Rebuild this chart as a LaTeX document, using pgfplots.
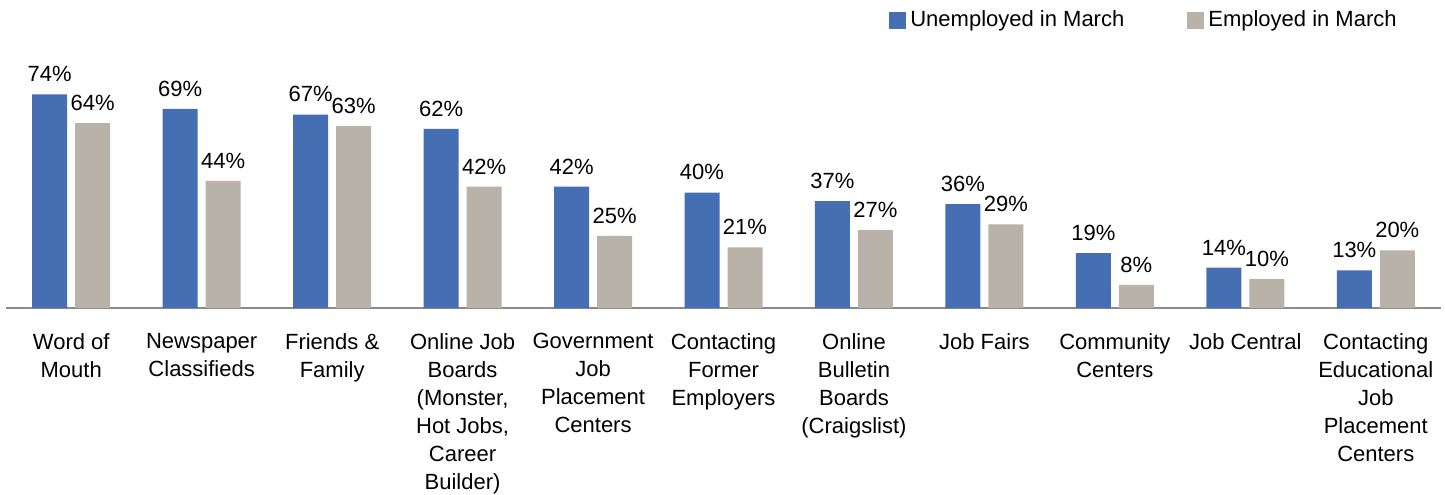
\documentclass[border=0pt]{standalone}
\usepackage{pgfplots}
\pgfplotsset{compat=1.18}
\usepackage{fontspec}
\setmainfont{Liberation Sans}
\definecolor{cblue}{HTML}{466EB3}
\definecolor{cgrey}{HTML}{B9B2A8}
\definecolor{caxis}{HTML}{8A8A8A}
\begin{document}
\begin{tikzpicture}
\path[use as bounding box] (0,0) rectangle (722.5pt,247pt);
\begin{axis}[
  at={(3pt,93pt)}, anchor=south west,
  scale only axis, width=717.5pt, height=115.5pt,
  xmin=-0.5, xmax=10.5, ymin=0, ymax=80,
  ybar=4pt, bar width=17.5pt,
  axis x line=bottom, axis y line=none,
  axis line style={-, draw=caxis, line width=0.75pt},
  xtick={0,...,10}, major tick length=0pt,
  xticklabels={{Word of\\Mouth},{Newspaper\\Classifieds},{Friends \&\\Family},{Online Job\\Boards\\(Monster,\\Hot Jobs,\\Career\\Builder)},{Government\\Job\\Placement\\Centers},{Contacting\\Former\\Employers},{Online\\Bulletin\\Boards\\(Craigslist)},{Job Fairs},{Community\\Centers},{Job Central},{Contacting\\Educational\\Job\\Placement\\Centers}},
  xticklabel style={align=center, font=\fontsize{11}{14}\selectfont, anchor=north, yshift=-9pt},
  /pgf/number format/assume math mode=true,
  nodes near coords={\pgfmathprintnumber{\pgfplotspointmeta}\%},
  every node near coord/.append style={font=\fontsize{11}{14}\selectfont, inner sep=2pt, yshift=4pt},
  clip=false,
  legend columns=2,
  legend style={at={(0.6153,1.2468)}, anchor=west, draw=none, fill=none, inner sep=0pt,
    font=\fontsize{11}{14}\selectfont,
    /tikz/every even column/.append style={column sep=29.5pt}},
  legend cell align=left,
  legend image code/.code={\fill[#1] (0pt,-4.25pt) rectangle (8.5pt,4.25pt);},
]
\addplot[fill=cblue, draw=none] coordinates {(0,74) (1,69) (2,67) (3,62) (4,42) (5,40) (6,37) (7,36) (8,19) (9,14) (10,13)};
\addplot[fill=cgrey, draw=none] coordinates {(0,64) (1,44) (2,63) (3,42) (4,25) (5,21) (6,27) (7,29) (8,8) (9,10) (10,20)};
\legend{Unemployed in March, Employed in March}
\end{axis}
\end{tikzpicture}
\end{document}
